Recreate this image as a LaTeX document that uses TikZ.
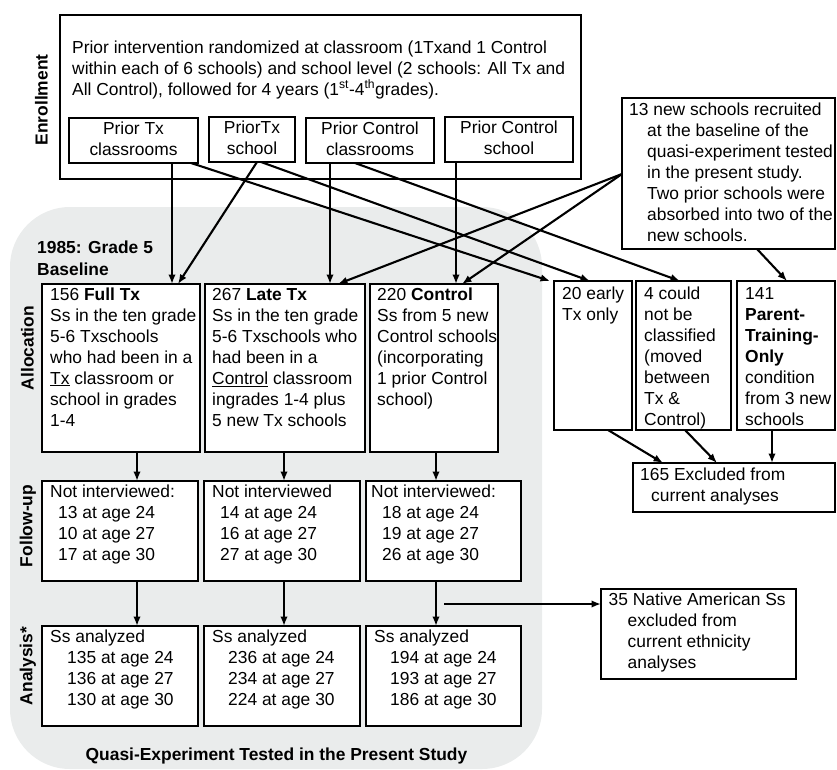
\documentclass[tikz,border=0pt]{standalone}
\usepackage{fontspec}
\setmainfont{Liberation Sans}
\usetikzlibrary{arrows.meta}
\definecolor{bgg}{RGB}{234,236,236}
\newcommand\fs{\fontsize{17.4pt}{21pt}\selectfont}
\begin{document}
\begin{tikzpicture}[x=1pt,y=-1pt,
  box/.style={draw, fill=white, line width=2.9pt, inner sep=0pt, outer sep=0pt, anchor=north west},
  txt/.style={inner sep=0pt, anchor=north west, align=left, font=\fs},
  ctxt/.style={draw, fill=white, line width=2.9pt, inner sep=0pt, outer sep=0pt, align=center, font=\fs},
  lab/.style={inner sep=0pt, font=\fs\bfseries, rotate=90},
  arr/.style={line width=2.1pt, -{Latex[length=9.5pt,width=7.5pt]}}]
\useasboundingbox (0,0) rectangle (837,770);
% gray region
\fill[bgg, rounded corners=60pt] (10,207) rectangle (542,769);

% enrollment
\node[box, minimum width=521pt, minimum height=164pt] (enroll) at (60,15) {};
\node[txt] (enrollT) at (72,38.3) {\strut Prior intervention randomized at classroom (1Txand 1 Control\\
within each of 6 schools) and school level (2 schools: All Tx and\\
All Control), followed for 4 years (1\textsuperscript{st}-4\textsuperscript{th}grades).};
\node[ctxt, minimum width=129pt, minimum height=45pt] (ptxc) at (133.5,140.5) {\strut Prior Tx\\\strut classrooms};
\node[ctxt, minimum width=86pt, minimum height=45pt] (ptxs) at (252,139.5) {\strut PriorTx\\\strut school};
\node[ctxt, minimum width=128pt, minimum height=45pt] (pctc) at (370,140.5) {\strut Prior Control\\\strut classrooms};
\node[ctxt, minimum width=128pt, minimum height=45pt] (pcs) at (509,139.5) {\strut Prior Control\\\strut school};

% new schools
\node[box, minimum width=213pt, minimum height=151pt] (newsch) at (622,98) {};
\node[txt] (newschT) at (629,100.3) {\strut 13 new schools recruited\\
\hspace*{18pt}at the baseline of the\\
\hspace*{18pt}quasi-experiment tested\\
\hspace*{18pt}in the present study.\\
\hspace*{18pt}Two prior schools were\\
\hspace*{18pt}absorbed into two of the\\
\hspace*{18pt}new schools.};

% labels
\node[lab] (labEnr) at (41.5,100) {Enrollment};
\node[lab] (labAll) at (27.5,348) {Allocation};
\node[lab] (labFol) at (28,526) {Follow-up};
\node[lab] (labAna) at (28,666) {Analysis*};
\node[inner sep=0pt, anchor=base west, font=\fs\bfseries] (yearlab) at (37,253) {1985: Grade 5};
\node[inner sep=0pt, anchor=base west, font=\fs\bfseries] (baselab) at (37,275.5) {Baseline};
\node[inner sep=0pt, anchor=base, font=\fs\bfseries] (title) at (276.5,760) {Quasi-Experiment Tested in the Present Study};

% allocation
\node[box, minimum width=158pt, minimum height=168pt] (fulltx) at (42,284) {};
\node[txt] (fulltxT) at (50,285.3) {\strut 156 \textbf{Full Tx}\\Ss in the ten grade\\5-6 Txschools\\who had been in a\\\underline{Tx} classroom or\\school in grades\\1-4};
\node[box, minimum width=160pt, minimum height=168pt] (latetx) at (205,284) {};
\node[txt] (latetxT) at (212,285.3) {\strut 267 \textbf{Late Tx}\\Ss in the ten grade\\5-6 Txschools who\\had been in a\\\underline{Control} classroom\\ingrades 1-4 plus\\5 new Tx schools};
\node[box, minimum width=128pt, minimum height=168pt] (ctrl) at (370,284) {};
\node[txt] (ctrlT) at (377,285.3) {\strut 220 \textbf{Control}\\Ss from 5 new\\Control schools\\(incorporating\\1 prior Control\\school)};

% right column
\node[box, minimum width=78pt, minimum height=149pt] (early) at (554,281) {};
\node[txt] (earlyT) at (562,284.3) {\strut 20 early\\Tx only};
\node[box, minimum width=95pt, minimum height=149pt] (could) at (636,281) {};
\node[txt] (couldT) at (644,284.3) {\strut 4 could\\not be\\classified\\(moved\\between\\Tx \&\\Control)};
\node[box, minimum width=98pt, minimum height=149pt] (parent) at (737,281) {};
\node[txt] (parentT) at (745,284.3) {\strut 141\\\textbf{Parent-}\\\textbf{Training-}\\\textbf{Only}\\condition\\from 3 new\\schools};
\node[box, minimum width=202pt, minimum height=49pt] (excl) at (633,463) {};
\node[txt] (exclT) at (640,465.3) {\strut 165 Excluded from\\\hspace*{11pt}current analyses};

% follow-up
\node[box, minimum width=156pt, minimum height=100pt] (fu1) at (42,481) {};
\node[txt] (fu1T) at (50,482.3) {\strut Not interviewed:\\\hspace*{8pt}13 at age 24\\\hspace*{8pt}10 at age 27\\\hspace*{8pt}17 at age 30};
\node[box, minimum width=156pt, minimum height=100pt] (fu2) at (204,481) {};
\node[txt] (fu2T) at (212,482.3) {\strut Not interviewed\\\hspace*{8pt}14 at age 24\\\hspace*{8pt}16 at age 27\\\hspace*{8pt}27 at age 30};
\node[box, minimum width=155pt, minimum height=100pt] (fu3) at (366,481) {};
\node[txt] (fu3T) at (371,482.3) {\strut Not interviewed:\\\hspace*{11pt}18 at age 24\\\hspace*{11pt}19 at age 27\\\hspace*{11pt}26 at age 30};

% analysis
\node[box, minimum width=156pt, minimum height=100pt] (an1) at (42,626) {};
\node[txt] (an1T) at (50,627.3) {\strut Ss analyzed\\\hspace*{17pt}135 at age 24\\\hspace*{17pt}136 at age 27\\\hspace*{17pt}130 at age 30};
\node[box, minimum width=156pt, minimum height=100pt] (an2) at (204,626) {};
\node[txt] (an2T) at (212,627.3) {\strut Ss analyzed\\\hspace*{16pt}236 at age 24\\\hspace*{16pt}234 at age 27\\\hspace*{16pt}224 at age 30};
\node[box, minimum width=155pt, minimum height=100pt] (an3) at (366,626) {};
\node[txt] (an3T) at (374,627.3) {\strut Ss analyzed\\\hspace*{16pt}194 at age 24\\\hspace*{16pt}193 at age 27\\\hspace*{16pt}186 at age 30};

% native
\node[box, minimum width=195pt, minimum height=90pt] (native) at (601,589) {};
\node[txt] (nativeT) at (608.5,590.3) {\strut 35 Native American Ss\\\hspace*{19pt}excluded from\\\hspace*{19pt}current ethnicity\\\hspace*{19pt}analyses};

% arrows
\draw[arr] ([xshift=103pt]ptxc.south west) -- ([xshift=130pt]fulltx.north west);
\draw[arr] ([xshift=122pt]ptxc.south west) -- ([xshift=-4pt]early.north west);
\draw[arr] ([xshift=48pt]ptxs.south west) -- ([xshift=136pt]fulltx.north west);
\draw[arr] ([xshift=52pt]ptxs.south west) -- ([xshift=36pt]early.north west);
\draw[arr] ([xshift=24pt]pctc.south west) -- ([xshift=125pt]latetx.north west);
\draw[arr] ([xshift=49pt]pctc.south west) -- ([xshift=44pt]could.north west);
\draw[arr] ([xshift=11pt]pcs.south west) -- ([xshift=86pt]ctrl.north west);
\draw[arr] ([yshift=-76pt]newsch.north west) -- ([xshift=133pt]latetx.north west);
\draw[arr] ([yshift=-76pt]newsch.north west) -- ([xshift=92pt]ctrl.north west);
\draw[arr] ([xshift=135pt]newsch.south west) -- ([xshift=50pt]parent.north west);
\draw[arr] ([xshift=54pt]early.south west) -- ([xshift=30pt]excl.north west);
\draw[arr] ([xshift=49pt]could.south west) -- ([xshift=84pt]excl.north west);
\draw[arr] ([xshift=35pt]parent.south west) -- ([xshift=139pt]excl.north west);
\draw[arr] ([xshift=95pt]fulltx.south west) -- ([xshift=95pt]fu1.north west);
\draw[arr] ([xshift=79pt]latetx.south west) -- ([xshift=80pt]fu2.north west);
\draw[arr] ([xshift=66pt]ctrl.south west) -- ([xshift=70pt]fu3.north west);
\draw[arr] ([xshift=95pt]fu1.south west) -- ([xshift=95pt]an1.north west);
\draw[arr] ([xshift=80pt]fu2.south west) -- ([xshift=80pt]an2.north west);
\draw[arr] ([xshift=70pt]fu3.south west) -- ([xshift=70pt]an3.north west);
\coordinate (nstart) at (444,604);
\draw[arr] (nstart) -- (nstart -| native.west);
\end{tikzpicture}
\end{document}
